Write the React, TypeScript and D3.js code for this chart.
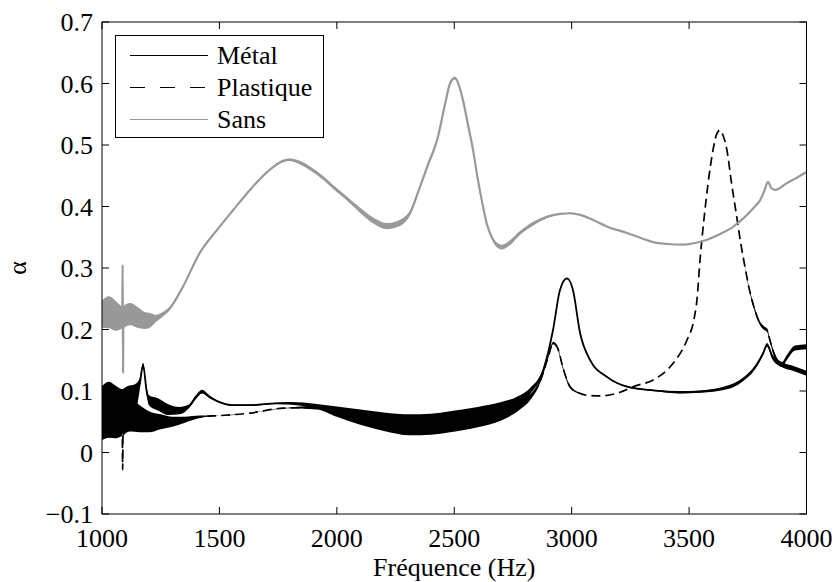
import React from 'react';
import * as d3 from 'd3';

// [frequency (Hz), alpha, noise half-width]
const metalData: [number, number, number][] = [
  [1000, 0.07, 0.038], [1030, 0.075, 0.04], [1060, 0.07, 0.038], [1085, 0.07, 0.033],
  [1110, 0.075, 0.033], [1140, 0.085, 0.026], [1160, 0.11, 0.01], [1175, 0.142, 0.004],
  [1190, 0.1, 0.006], [1200, 0.085, 0.008], [1240, 0.078, 0.01], [1280, 0.07, 0.009],
  [1330, 0.068, 0.006], [1370, 0.075, 0.003], [1400, 0.09, 0.003], [1426, 0.099, 0.003],
  [1460, 0.09, 0.002], [1500, 0.082, 0.001], [1558, 0.077, 0.001], [1640, 0.077, 0.001],
  [1740, 0.08, 0.001], [1800, 0.08, 0.002], [1915, 0.075, 0.004], [2000, 0.068, 0.007],
  [2100, 0.06, 0.01], [2200, 0.052, 0.013], [2311, 0.047, 0.015], [2400, 0.048, 0.015],
  [2482, 0.052, 0.015], [2600, 0.06, 0.014], [2700, 0.07, 0.012], [2780, 0.085, 0.008],
  [2823, 0.1, 0.005], [2880, 0.135, 0.003], [2921, 0.2, 0.002], [2950, 0.264, 0.002],
  [2980, 0.283, 0.001], [3005, 0.265, 0.001], [3036, 0.194, 0.001], [3079, 0.15, 0.001],
  [3150, 0.123, 0.001], [3236, 0.107, 0.001], [3347, 0.101, 0.001], [3461, 0.098, 0.002],
  [3547, 0.099, 0.002], [3674, 0.107, 0.003], [3740, 0.122, 0.003], [3772, 0.134, 0.003],
  [3815, 0.161, 0.003], [3832, 0.175, 0.003], [3857, 0.154, 0.004], [3900, 0.142, 0.004],
  [3942, 0.137, 0.004], [4000, 0.129, 0.004],
];

const plastiqueData: [number, number, number][] = [
  [1000, 0.055, 0.035], [1030, 0.06, 0.036], [1060, 0.055, 0.032], [1086, 0.055, 0.028],
  [1088, -0.028, 0], [1090, 0.055, 0.028], [1120, 0.06, 0.026], [1160, 0.055, 0.022],
  [1200, 0.05, 0.017], [1250, 0.05, 0.012], [1300, 0.05, 0.008], [1350, 0.053, 0.005],
  [1417, 0.058, 0.002], [1500, 0.06, 0], [1630, 0.064, 0], [1771, 0.072, 0],
  [1915, 0.073, 0.003], [2000, 0.065, 0.007], [2100, 0.056, 0.011], [2200, 0.048, 0.013],
  [2311, 0.043, 0.015], [2400, 0.044, 0.015], [2482, 0.048, 0.015], [2600, 0.055, 0.014],
  [2700, 0.064, 0.012], [2780, 0.078, 0.008], [2823, 0.09, 0.005], [2865, 0.115, 0.003],
  [2900, 0.155, 0.002], [2921, 0.178, 0.002], [2940, 0.17, 0.002], [2965, 0.135, 0.002],
  [2993, 0.107, 0.002], [3030, 0.097, 0.001], [3065, 0.093, 0], [3121, 0.092, 0],
  [3206, 0.098, 0], [3261, 0.107, 0], [3347, 0.118, 0], [3400, 0.132, 0],
  [3432, 0.145, 0], [3491, 0.183, 0], [3520, 0.215, 0], [3534, 0.25, 0],
  [3547, 0.315, 0], [3565, 0.385, 0], [3581, 0.438, 0], [3602, 0.492, 0],
  [3615, 0.515, 0], [3631, 0.524, 0], [3645, 0.515, 0], [3661, 0.492, 0],
  [3680, 0.44, 0], [3703, 0.383, 0], [3720, 0.34, 0], [3738, 0.302, 0.001],
  [3755, 0.268, 0.002], [3772, 0.242, 0.003], [3802, 0.21, 0.003], [3820, 0.202, 0.003],
  [3832, 0.199, 0.003], [3844, 0.183, 0.003], [3866, 0.156, 0.004], [3895, 0.143, 0.004],
  [3917, 0.155, 0.004], [3951, 0.17, 0.004], [4000, 0.172, 0.004],
];

const sansData: [number, number, number][] = [
  [1000, 0.225, 0.022], [1030, 0.228, 0.026], [1060, 0.222, 0.024], [1086, 0.22, 0.018],
  [1088, 0.305, 0], [1089.5, 0.13, 0], [1091, 0.22, 0.018], [1120, 0.225, 0.018],
  [1150, 0.22, 0.017], [1180, 0.215, 0.014], [1204, 0.215, 0.012], [1230, 0.218, 0.006],
  [1260, 0.225, 0.004], [1290, 0.235, 0.003], [1345, 0.27, 0.002], [1417, 0.325, 0.001],
  [1490, 0.362, 0.001], [1558, 0.394, 0.001], [1630, 0.427, 0.001], [1703, 0.456, 0.001],
  [1771, 0.474, 0.002], [1800, 0.476, 0.002], [1850, 0.47, 0.003], [1886, 0.462, 0.003],
  [1940, 0.447, 0.003], [1984, 0.432, 0.003], [2040, 0.414, 0.003], [2099, 0.394, 0.004],
  [2160, 0.376, 0.005], [2213, 0.368, 0.005], [2260, 0.372, 0.005], [2311, 0.389, 0.004],
  [2354, 0.432, 0.003], [2390, 0.47, 0.003], [2427, 0.508, 0.003], [2460, 0.565, 0.003],
  [2482, 0.6, 0.003], [2503, 0.609, 0.002], [2520, 0.597, 0.002], [2537, 0.573, 0.001],
  [2560, 0.53, 0.001], [2580, 0.492, 0.001], [2600, 0.445, 0.001], [2623, 0.399, 0.002],
  [2640, 0.37, 0.003], [2660, 0.35, 0.003], [2680, 0.338, 0.004], [2703, 0.334, 0.004],
  [2740, 0.342, 0.004], [2780, 0.357, 0.003], [2840, 0.373, 0.003], [2894, 0.383, 0.002],
  [2950, 0.388, 0.001], [2993, 0.389, 0.001], [3040, 0.386, 0.001], [3091, 0.378, 0],
  [3160, 0.366, 0], [3236, 0.357, 0], [3300, 0.348, 0], [3347, 0.342, 0],
  [3410, 0.339, 0], [3474, 0.338, 0], [3530, 0.341, 0], [3576, 0.346, 0],
  [3630, 0.355, 0], [3687, 0.367, 0], [3740, 0.384, 0.001], [3780, 0.4, 0.001],
  [3802, 0.41, 0.001], [3820, 0.425, 0.001], [3836, 0.44, 0.001], [3850, 0.43, 0.001],
  [3866, 0.427, 0.001], [3917, 0.438, 0.001], [3960, 0.447, 0.001], [4000, 0.456, 0.001],
];

const xTicks = [1000, 1500, 2000, 2500, 3000, 3500, 4000];
const yTicks = [-0.1, 0, 0.1, 0.2, 0.3, 0.4, 0.5, 0.6, 0.7];
const legendLabels = ['Métal', 'Plastique', 'Sans'];
const xLabel = 'Fréquence (Hz)';
const yLabel = 'α';

const W = 837;
const H = 582;
const L = 102;
const R = 806.5;
const T = 22;
const B = 514;
const FONT = "'Liberation Serif'";
const GRAY = '#999999';

export default function App() {
  const x = d3.scaleLinear().domain([1000, 4000]).range([L, R]);
  const y = d3.scaleLinear().domain([-0.1, 0.7]).range([B, T]);

  const line = d3
    .line<[number, number, number]>()
    .x((d) => x(d[0]))
    .y((d) => y(d[1]))
    .curve(d3.curveMonotoneX);
  const area = d3
    .area<[number, number, number]>()
    .x((d) => x(d[0]))
    .y0((d) => y(d[1] - d[2]))
    .y1((d) => y(d[1] + d[2]))
    .curve(d3.curveMonotoneX);

  const fmt = (v: number) => (v < 0 ? '\u2212' + Math.abs(v).toString() : v.toString());
  const tickLen = 7;

  const series = [
    { data: metalData, color: '#000', dash: undefined as string | undefined, width: 1.8 },
    { data: plastiqueData, color: '#000', dash: '9 5', width: 1.7 },
    { data: sansData, color: GRAY, dash: undefined as string | undefined, width: 2.2 },
  ];

  const legendStyles = [
    { color: '#000', dash: undefined as string | undefined },
    { color: '#000', dash: '15 15' },
    { color: GRAY, dash: undefined as string | undefined },
  ];

  const txt = { fontFamily: FONT, fontSize: 26, fill: '#000' } as React.CSSProperties;

  return (
    <svg
      width={W}
      height={H}
      style={{ position: 'absolute', left: 0, top: 0, background: '#fff' }}
    >
      <defs>
        <clipPath id="plotClip">
          <rect x={L} y={T} width={R - L} height={B - T} />
        </clipPath>
      </defs>
      <rect x={0} y={0} width={W} height={H} fill="#fff" />

      <g clipPath="url(#plotClip)">
        {series.map((s, i) => (
          <g key={i}>
            <path d={area(s.data) || ''} fill={s.color} stroke="none" />
            <path
              d={line(s.data) || ''}
              fill="none"
              stroke={s.color}
              strokeWidth={s.width}
              strokeDasharray={s.dash}
              strokeLinejoin="round"
            />
          </g>
        ))}
      </g>

      {/* axes box */}
      <rect x={L} y={T} width={R - L} height={B - T} fill="none" stroke="#000" strokeWidth={1} />
      {xTicks.map((t) => (
        <g key={'xt' + t}>
          <line x1={x(t)} x2={x(t)} y1={B} y2={B - tickLen} stroke="#000" strokeWidth={1} />
          <line x1={x(t)} x2={x(t)} y1={T} y2={T + tickLen} stroke="#000" strokeWidth={1} />
          <text x={x(t)} y={B + 33} style={txt} textAnchor="middle">
            {t}
          </text>
        </g>
      ))}
      {yTicks.map((t) => (
        <g key={'yt' + t}>
          <line x1={L} x2={L + tickLen} y1={y(t)} y2={y(t)} stroke="#000" strokeWidth={1} />
          <line x1={R} x2={R - tickLen} y1={y(t)} y2={y(t)} stroke="#000" strokeWidth={1} />
          <text x={93} y={y(t) + 9} style={txt} textAnchor="end">
            {fmt(Math.round(t * 10) / 10)}
          </text>
        </g>
      ))}

      <text x={(L + R) / 2} y={576} style={txt} textAnchor="middle">
        {xLabel}
      </text>
      <text
        transform={`translate(26,${(T + B) / 2}) rotate(-90)`}
        style={txt}
        textAnchor="middle"
      >
        {yLabel}
      </text>

      {/* legend */}
      <rect x={115.5} y={35.5} width={208} height={102} fill="#fff" stroke="#000" strokeWidth={1} />
      {legendLabels.map((lab, i) => {
        const cy = 55.5 + Math.round(i * 32);
        const st = legendStyles[i];
        return (
          <g key={lab}>
            <line
              x1={130}
              x2={208}
              y1={cy}
              y2={cy}
              stroke={st.color}
              strokeWidth={1}
              strokeDasharray={st.dash}
            />
            <text x={217} y={cy + 8} style={txt}>
              {lab}
            </text>
          </g>
        );
      })}
    </svg>
  );
}
